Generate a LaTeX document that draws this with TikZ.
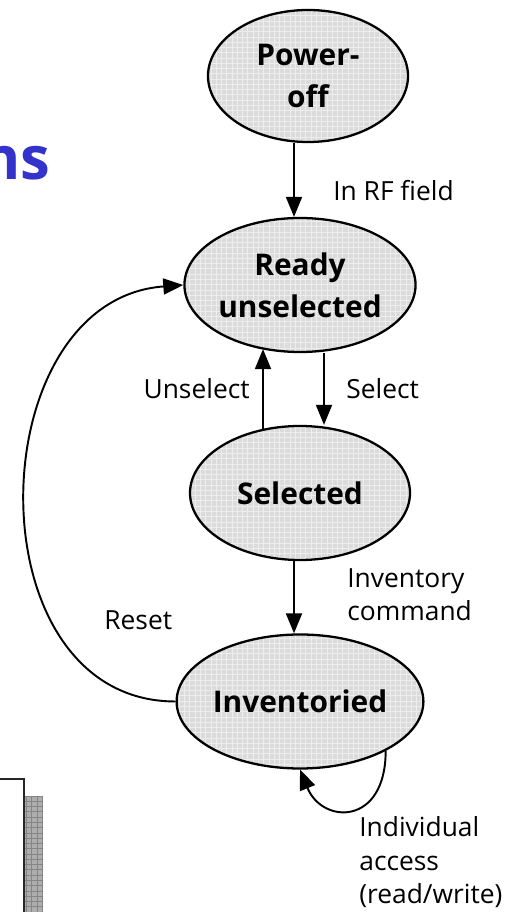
\documentclass[tikz,border=0pt]{standalone}
\usepackage{fontspec}
\setmainfont{Open Sans}
\usepackage{tikz}
\usetikzlibrary{arrows.meta, shapes.geometric, patterns}

\definecolor{titleblue}{RGB}{51,51,204}

\begin{document}
\begin{tikzpicture}[
        state/.style={ellipse, draw, line width=1.3pt,
            preaction={fill=black!14}, pattern=grid, pattern color=black!7,
            minimum width=4.4cm, minimum height=2.68cm, inner sep=0pt,
            align=center, font=\fontsize{17}{24}\selectfont\bfseries},
        trans/.style={-{Triangle[length=4mm, width=3.2mm]}, line width=1.1pt},
        lbl/.style={inner sep=0pt, align=left, font=\fontsize{15}{19.3}\selectfont}
    ]
        \useasboundingbox (0, 0) rectangle (10.52, 18.24);

        % title, cut off at the left
        \node[anchor=base east, inner sep=0pt, text=titleblue,
            font=\fontsize{34}{40}\selectfont\bfseries] (title) at (1.02, 14.64) {ns};

        % states
        \node[state, minimum width=4.0cm, minimum height=2.64cm] (power) at (6.16, 16.72) {Power-\\off};
        \node[state] (ready) at (6.00, 12.54) {Ready\\unselected};
        \node[state] (sel) at (6.00, 8.38) {Selected};
        \node[state] (inv) at (6.00, 4.21) {Inventoried};

        % transitions
        \draw[trans] ([xshift=-2.8mm]power.south) -- ([xshift=-1.2mm]ready.north);
        \draw[trans] ([xshift=4.8mm]ready.south) -- ([xshift=4.8mm]sel.north);
        \draw[trans] ([xshift=-7.4mm, yshift=-0.8mm]sel.north) -- ([xshift=-7.4mm, yshift=0.8mm]ready.south);
        \draw[trans] ([xshift=-1.2mm]sel.south) -- ([xshift=-1.2mm]inv.north);
        \draw[trans] (inv.west) .. controls +(-4.1, 0) and +(-4.1, -0.3) .. (ready.west);
        \draw[trans] (inv.-30) .. controls +(0, -1.5) and +(0.45, -1.1) .. (inv.south);

        % labels (base = last line)
        \node[lbl, anchor=base west] (rf) at (6.66, 14.22) {In RF field};
        \node[lbl, anchor=base east] (unsel) at (5.00, 10.26) {Unselect};
        \node[lbl, anchor=base west] (select) at (6.92, 10.26) {Select};
        \node[lbl, anchor=base west] (invcmd) at (6.94, 5.82) {Inventory\\command};
        \node[lbl, anchor=base west] (reset) at (2.08, 5.64) {Reset};
        \node[lbl, anchor=base west] (access) at (7.18, 0.16) {Individual\\access\\(read/write)};

        % box at the lower left edge
        \fill[black!32, postaction={pattern=grid, pattern color=black!48}] (0.50, 0) rectangle (0.86, 2.30);
        \draw[line width=1.1pt, black!85] (0, 2.66) -- (0.48, 2.66) -- (0.48, 0);
    \end{tikzpicture}
\end{document}
